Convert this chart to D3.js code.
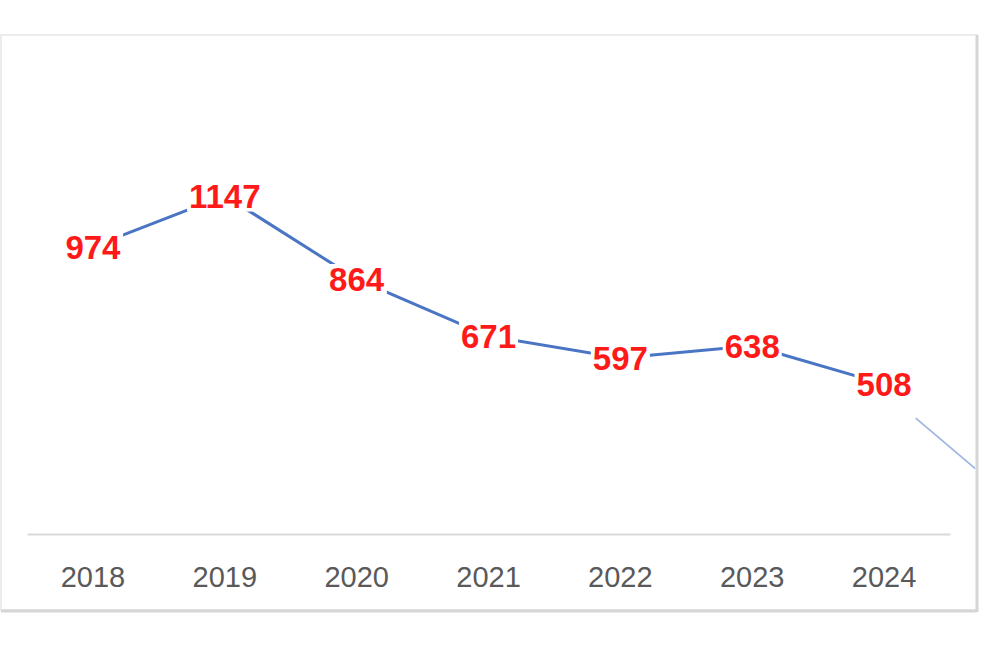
<!DOCTYPE html>
<html>
<head>
<meta charset="utf-8">
<script src="https://cdn.jsdelivr.net/npm/d3@7"></script>
<style>
  body { margin: 0; background: #fff; }
  svg { display: block; }
</style>
</head>
<body>
<div id="chart"></div>
<script>
// chart data
const years = ["2018", "2019", "2020", "2021", "2022", "2023", "2024"];
const counts = [974, 1147, 864, 671, 597, 638, 508];
// faint tail segment running off the right edge (year, value)
const tailYears = [2024.24, 2025];
const tailValues = [393, 105];

const width = 984;
const height = 651;
const frame = { left: 1, top: 35, right: 977, bottom: 610 };
const plot = { left: 27, right: 950, top: 121, bottom: 534 };

const svg = d3.select("#chart").append("svg")
    .attr("width", width)
    .attr("height", height);

// chart frame
svg.append("rect")
    .attr("x", frame.left)
    .attr("y", frame.top)
    .attr("width", frame.right - frame.left)
    .attr("height", frame.bottom - frame.top)
    .attr("fill", "#fff")
    .attr("stroke", "#ececec")
    .attr("stroke-width", 2);
svg.append("line")
    .attr("x1", frame.right).attr("x2", frame.right)
    .attr("y1", frame.top).attr("y2", frame.bottom + 2)
    .attr("stroke", "#d6d6d6").attr("stroke-width", 3);
svg.append("line")
    .attr("x1", frame.left).attr("x2", frame.right)
    .attr("y1", frame.bottom + 1).attr("y2", frame.bottom + 1)
    .attr("stroke", "#d6d6d6").attr("stroke-width", 3);

svg.append("clipPath").attr("id", "clip")
  .append("rect")
    .attr("x", frame.left)
    .attr("y", frame.top)
    .attr("width", frame.right - frame.left - 2)
    .attr("height", frame.bottom - frame.top);

const xBand = d3.scaleBand()
    .domain(years)
    .range([plot.left, plot.right]);

// numeric year scale matching band centres
const xYear = d3.scaleLinear()
    .domain([2018, 2024])
    .range([xBand("2018") + xBand.bandwidth() / 2, xBand("2024") + xBand.bandwidth() / 2]);

const y = d3.scaleLinear()
    .domain([0, 1400])
    .range([plot.bottom, plot.top]);

// x axis
const xAxis = svg.append("g")
    .attr("transform", "translate(0," + plot.bottom + ")")
    .call(d3.axisBottom(xBand).tickSize(0).tickPadding(32));
xAxis.select(".domain")
    .attr("stroke", "#d9d9d9")
    .attr("stroke-width", 2);
xAxis.selectAll("text")
    .attr("fill", "#595959")
    .style("font-family", "'Liberation Sans', Arial, sans-serif")
    .style("font-size", "29px");

// tail line
svg.append("path")
    .datum(tailYears.map((d, i) => [d, tailValues[i]]))
    .attr("clip-path", "url(#clip)")
    .attr("fill", "none")
    .attr("stroke", "#9fb6e3")
    .attr("stroke-width", 1.8)
    .attr("d", d3.line().x(d => xYear(d[0])).y(d => y(d[1])));

// main line
const line = d3.line()
    .x((d, i) => xBand(years[i]) + xBand.bandwidth() / 2)
    .y(d => y(d));

svg.append("path")
    .datum(counts)
    .attr("fill", "none")
    .attr("stroke", "#4a74c4")
    .attr("stroke-width", 3)
    .attr("d", line);

// data labels (centered, white background)
const labels = svg.selectAll(".label")
    .data(counts)
    .enter()
    .append("g")
    .attr("class", "label")
    .attr("transform", (d, i) => "translate(" + (xBand(years[i]) + xBand.bandwidth() / 2) + "," + y(d) + ")");

labels.append("text")
    .attr("text-anchor", "middle")
    .attr("dy", "0.36em")
    .attr("fill", "#ff1a1a")
    .style("font-family", "'Liberation Sans', Arial, sans-serif")
    .style("font-weight", "bold")
    .style("font-size", "33px")
    .text(d => d);

labels.each(function() {
  const g = d3.select(this);
  const bb = g.select("text").node().getBBox();
  g.insert("rect", "text")
      .attr("x", bb.x - 2)
      .attr("y", bb.y + 3)
      .attr("width", bb.width + 4)
      .attr("height", bb.height - 6)
      .attr("fill", "#fff");
});
</script>
</body>
</html>
